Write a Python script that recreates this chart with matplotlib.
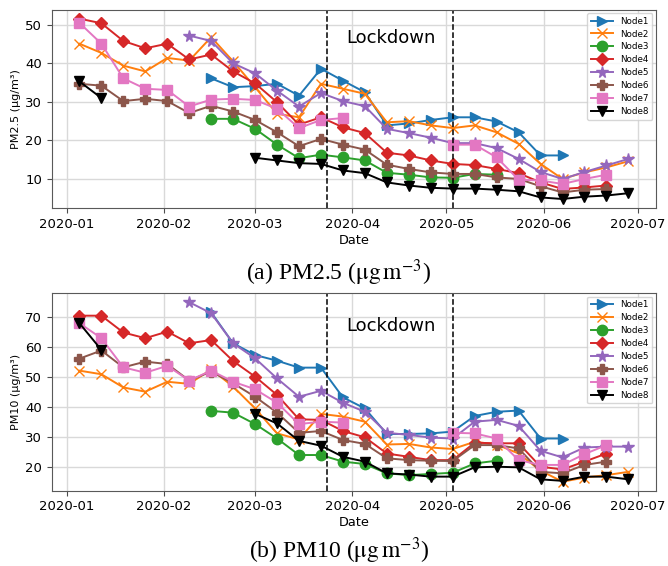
import numpy as np
import pandas as pd
import matplotlib
matplotlib.use("Agg")
import matplotlib.pyplot as plt
import matplotlib.dates as mdates

nan = np.nan
dates = pd.date_range("2020-01-05", periods=26, freq="7D")
nodes = ["Node1", "Node2", "Node3", "Node4", "Node5", "Node6", "Node7", "Node8"]
lockdown_start = pd.Timestamp("2020-03-24")
lockdown_end = pd.Timestamp("2020-05-03")

pm25_node1 = [nan]*6 + [36.1, 33.8, 34.1, 34.7, 31.6, 38.6, 35.5, 32.5, 23.9, 24.4, 25.3, 26.0, 26.0, 24.9, 22.1, 16.1, 16.1] + [nan]*3
pm25_node2 = [45.1, 42.7, 39.4, 37.9, 41.4, 40.7, 46.8, 40.5, 33.8, 26.9, 26.0, 34.7, 33.4, 32.1, 24.7, 25.0, 23.9, 23.2, 23.9, 22.1, 19.1, 13.9, 10.0, 11.7, 13.0, 14.6]
pm25_node3 = [nan]*6 + [25.6, 25.6, 23.0, 18.9, 15.4, 16.3, 15.6, 14.8, 11.6, 11.1, 10.4, 10.3, 11.3, 11.1] + [nan]*6
pm25_node4 = [51.6, 50.4, 45.8, 43.9, 45.1, 41.0, 42.3, 37.9, 34.8, 29.9, 24.1, 26.0, 23.4, 21.9, 16.8, 16.1, 14.8, 13.9, 13.6, 12.6, 11.5, 9.1, 7.4, 7.8, 8.3, nan]
pm25_node5 = [nan]*5 + [47.2, 45.8, 40.0, 37.4, 32.9, 28.8, 32.3, 30.2, 28.9, 23.0, 21.9, 20.7, 19.3, 19.3, 18.0, 15.2, 11.8, 10.0, 11.8, 13.5, 15.2]
pm25_node6 = [34.7, 34.2, 30.2, 30.8, 30.2, 27.1, 29.0, 27.5, 25.3, 22.1, 18.5, 20.4, 18.9, 17.6, 13.7, 12.6, 11.7, 11.3, 11.3, 10.4, 10.0, 8.1, 6.5, 7.2, 7.4, nan]
pm25_node7 = [50.5, 45.1, 36.1, 33.4, 33.1, 28.8, 30.6, 30.8, 30.5, 28.2, 23.2, 25.3, 25.8, nan, nan, nan, nan, 18.9, 18.9, 15.6, 9.8, 9.6, 8.7, 10.0, 11.1, nan]
pm25_node8 = [35.3, 31.0] + [nan]*6 + [15.5, 14.8, 14.1, 13.9, 12.2, 11.5, 9.1, 8.3, 7.7, 7.5, 7.5, 7.2, 6.8, 5.2, 4.8, 5.4, 5.7, 6.3]

pm10_node1 = [nan]*6 + [71.4, 61.1, 57.2, 55.3, 53.0, 53.0, 43.1, 39.4, 30.9, 30.9, 31.1, 31.7, 36.9, 38.3, 38.7, 29.4, 29.4] + [nan]*3
pm10_node2 = [52.0, 50.8, 46.4, 45.0, 48.3, 47.6, 52.4, 46.7, 39.4, 31.1, 29.1, 37.6, 36.7, 35.0, 27.4, 27.6, 26.4, 25.9, 28.3, 27.4, 24.4, 18.7, 15.0, 16.4, 17.2, 18.3]
pm10_node3 = [nan]*6 + [38.6, 38.0, 34.2, 29.4, 23.9, 23.9, 21.7, 20.9, 17.8, 17.2, 17.6, 18.0, 21.1, 22.0] + [nan]*6
pm10_node4 = [70.3, 70.3, 64.7, 62.8, 65.0, 61.1, 62.2, 55.2, 50.0, 43.9, 35.8, 35.6, 31.9, 29.8, 24.4, 23.3, 22.2, 22.2, 28.0, 27.8, 27.8, 20.0, 19.1, 21.7, 24.4, nan]
pm10_node5 = [nan]*5 + [74.8, 71.1, 61.1, 56.1, 49.4, 43.3, 45.3, 41.3, 38.3, 31.3, 30.6, 29.7, 29.4, 35.0, 35.6, 33.6, 25.3, 23.1, 26.4, 26.7, 26.7]
pm10_node6 = [56.0, 58.7, 53.1, 55.0, 54.2, 48.7, 51.7, 47.8, 43.3, 38.0, 31.3, 31.9, 28.9, 27.6, 22.8, 22.2, 22.0, 21.9, 27.2, 27.2, 26.1, 18.3, 17.8, 20.6, 21.7, nan]
pm10_node7 = [67.8, 62.8, 53.1, 51.3, 53.6, 48.7, 52.0, 48.3, 45.8, 41.3, 34.2, 35.0, 34.7, nan, nan, nan, nan, 31.3, 31.1, 29.4, 22.2, 20.6, 20.6, 24.2, 27.2, nan]
pm10_node8 = [67.8, 58.9] + [nan]*6 + [37.6, 34.4, 28.6, 27.0, 23.3, 21.7, 17.8, 17.4, 16.7, 16.7, 19.8, 20.0, 19.8, 15.8, 15.3, 16.7, 16.7, 15.8]

pm25 = [pm25_node1, pm25_node2, pm25_node3, pm25_node4, pm25_node5, pm25_node6, pm25_node7, pm25_node8]
pm10 = [pm10_node1, pm10_node2, pm10_node3, pm10_node4, pm10_node5, pm10_node6, pm10_node7, pm10_node8]

colors = ["#1f77b4", "#ff7f0e", "#2ca02c", "#d62728", "#9467bd", "#8c564b", "#e377c2", "black"]
markers = [">", "x", "o", "D", "*", "P", "s", "v"]
msizes = [7.5, 7.5, 7.5, 6.5, 8.5, 7.5, 7.5, 7.5]

plt.rcParams["font.family"] = ["DejaVu Sans"]
plt.rcParams["mathtext.fontset"] = "stix"

fig = plt.figure(figsize=(6.68, 5.66), dpi=100)
ax1 = fig.add_axes([0.0778, 0.6325, 0.904, 0.3505])
ax2 = fig.add_axes([0.0778, 0.133, 0.904, 0.349])

def draw(ax, series, ylabel, text_y):
    for name, vals, c, m, ms in zip(nodes, series, colors, markers, msizes):
        ax.plot(dates, vals, color=c, marker=m, markersize=ms, linewidth=1.4, label=name)
    ax.axvline(lockdown_start, color="black", linestyle="--", linewidth=1.1)
    ax.axvline(lockdown_end, color="black", linestyle="--", linewidth=1.1)
    ax.grid(True, color="#d9d9d9", linewidth=1.0)
    ax.set_axisbelow(True)
    ax.xaxis.set_major_locator(mdates.MonthLocator())
    ax.xaxis.set_major_formatter(mdates.DateFormatter("%Y-%m"))
    ax.tick_params(labelsize=9.5, color="0.3")
    for s in ax.spines.values():
        s.set_color("0.35")
    ax.set_xlabel("Date", fontsize=9.3, labelpad=2)
    ax.set_ylabel(ylabel, fontsize=8, labelpad=3)
    ax.text(pd.Timestamp("2020-03-30"), text_y, "Lockdown", fontsize=13, ha="left", va="center")
    ax.legend(loc="upper right", fontsize=6.3, handlelength=2.6, labelspacing=0.45,
              borderaxespad=0.4, framealpha=0.8)

draw(ax1, pm25, "PM2.5 (μg/m³)", 46.5)
draw(ax2, pm10, "PM10 (μg/m³)", 67.0)

fig.text(0.5075, 1 - 280 / 566, r"(a) PM2.5 ($\mathrm{\mu g\,m^{-3}}$)", ha="center", va="baseline",
         fontsize=17, family="Liberation Serif")
fig.text(0.5075, 1 - 558 / 566, r"(b) PM10 ($\mathrm{\mu g\,m^{-3}}$)", ha="center", va="baseline",
         fontsize=17, family="Liberation Serif")

fig.savefig("out.png", dpi=100)
